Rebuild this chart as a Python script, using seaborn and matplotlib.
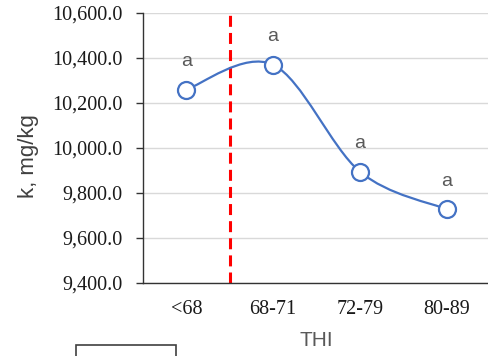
import numpy as np
import pandas as pd
import matplotlib
matplotlib.use("Agg")
import matplotlib.pyplot as plt
from matplotlib.path import Path
from matplotlib.patches import PathPatch, Rectangle
import seaborn as sns

categories = ["<68", "68-71", "72-79", "80-89"]
k_values = [10260, 10370, 9895, 9728]
letters = ["a", "a", "a", "a"]
y_ticks = [9400, 9600, 9800, 10000, 10200, 10400, 10600]

sns.set_theme(style="white")
plt.rcParams["font.family"] = ["Liberation Serif", "DejaVu Sans"]

W, H = 488, 356
fig = plt.figure(figsize=(W / 100, H / 100), dpi=100)
ax = fig.add_axes([143 / W, 1 - 283 / H, 347 / W, 270 / H])

df = pd.DataFrame({"x": np.arange(len(categories)), "k": k_values})

# smoothed line (Excel-style Catmull-Rom Bezier)
pts = np.column_stack([df["x"].to_numpy(float), df["k"].to_numpy(float)])
n = len(pts)
verts = [tuple(pts[0])]
codes = [Path.MOVETO]
for i in range(n - 1):
    p_prev = pts[max(i - 1, 0)]
    p0 = pts[i]
    p1 = pts[i + 1]
    p_next = pts[min(i + 2, n - 1)]
    c1 = p0 + (p1 - p_prev) / 6.0
    c2 = p1 - (p_next - p0) / 6.0
    verts += [tuple(c1), tuple(c2), tuple(p1)]
    codes += [Path.CURVE4] * 3
line_color = "#4472C4"
ax.add_patch(PathPatch(Path(verts, codes), facecolor="none", edgecolor=line_color,
                       lw=1.6, zorder=3))

sns.scatterplot(data=df, x="x", y="k", ax=ax, s=150, marker="o",
                facecolor="white", edgecolor=line_color, linewidth=1.6, zorder=4,
                legend=False)

for xi, yi, lab in zip(df["x"], df["k"], letters):
    ax.annotate(lab, (xi, yi), xytext=(0, 20), textcoords="offset points",
                ha="center", va="center", fontsize=14, color="#595959",
                family=["Liberation Sans", "DejaVu Sans"])

# red dashed threshold line between first and second categories
ax.axvline(0.5, color="#FF0000", lw=2.2, dashes=(3.6, 2.0), zorder=2)

ax.set_xlim(-0.5, len(categories) - 0.5)
ax.set_ylim(y_ticks[0], y_ticks[-1])
ax.set_yticks(y_ticks)
ax.set_yticklabels([f"{v:,.1f}" for v in y_ticks], fontsize=14.5, color="#1a1a1a")
ax.set_xticks(np.arange(len(categories)))
ax.set_xticklabels(categories, fontsize=14.5, color="#1a1a1a")
ax.set_xticks(np.arange(len(categories) + 1) - 0.5, minor=True)
ax.tick_params(axis="x", which="major", length=0, pad=12)
ax.tick_params(axis="x", which="minor", length=5, width=1, color="#333333", direction="out")
ax.tick_params(axis="y", which="major", length=5, width=1, color="#333333", direction="out",
               pad=10, left=True)

ax.grid(axis="y", color="#d9d9d9", lw=1)
ax.set_axisbelow(True)
for s in ["top", "right"]:
    ax.spines[s].set_visible(False)
for s in ["left", "bottom"]:
    ax.spines[s].set_color("#333333")
    ax.spines[s].set_linewidth(1)

ax.set_xlabel("THI", fontsize=15, color="#595959", labelpad=9,
              family=["Liberation Sans", "DejaVu Sans"])
ax.set_ylabel("k, mg/kg", fontsize=16, color="#404040",
              family=["Liberation Sans", "DejaVu Sans"])
ax.yaxis.set_label_coords(-0.30, 0.47)

# partially visible legend box at the bottom-left
fig.patches.append(Rectangle((76 / W, -0.05), 100 / W, 0.05 + 1 - 345 / H,
                             transform=fig.transFigure, fill=False,
                             edgecolor="#404040", lw=1.2))

fig.savefig("out.png", dpi=100)
